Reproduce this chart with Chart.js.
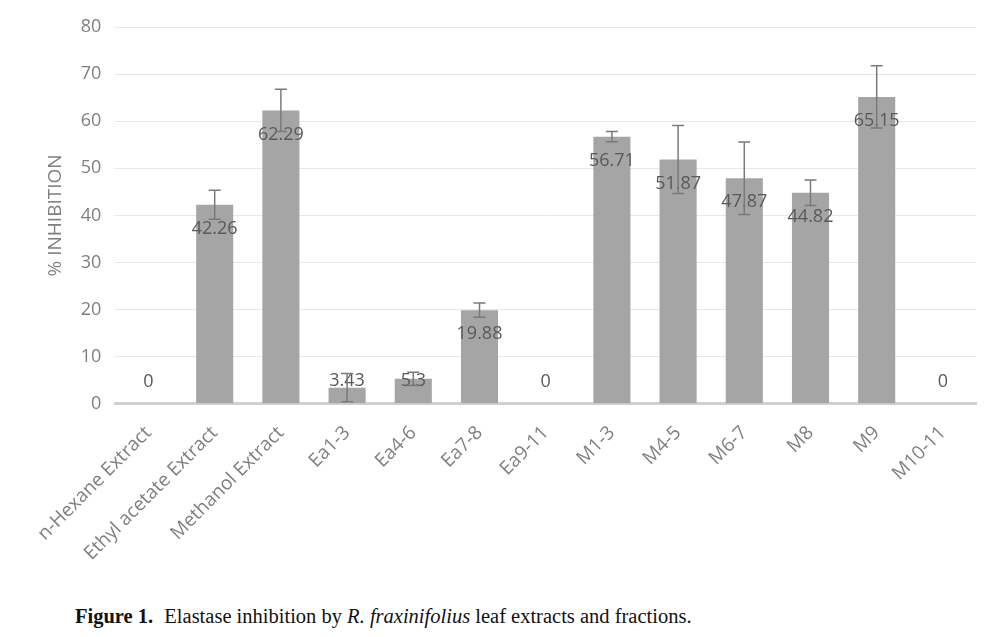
<!DOCTYPE html>
<html>
<head>
<meta charset="utf-8">
<script src="https://cdn.jsdelivr.net/npm/chart.js@4"></script>
<style>
  html, body { margin: 0; padding: 0; background: #fff; overflow: hidden; }
  .wrap { position: relative; width: 1005px; height: 637px; overflow: hidden; }
  .chart-box { position: absolute; left: -12px; top: -3px; width: 1017px; height: 603px; }
  .caption {
    position: absolute; left: 75px; top: 605px;
    font-family: "Liberation Serif", "DejaVu Serif", serif;
    font-size: 20.5px; color: #111; white-space: nowrap;
  }
  .caption b { margin-right: 6px; }
</style>
</head>
<body>
<div class="wrap">
  <div class="chart-box"><canvas id="chart"></canvas></div>
  <div class="caption"><b>Figure 1.</b> Elastase inhibition by <i>R. fraxinifolius</i> leaf extracts and fractions.</div>
</div>
<script>
const categories = [
    "n-Hexane Extract", "Ethyl acetate Extract", "Methanol Extract",
    "Ea1-3", "Ea4-6", "Ea7-8", "Ea9-11",
    "M1-3", "M4-5", "M6-7", "M8", "M9", "M10-11",
];
const inhibition = [0, 42.26, 62.29, 3.43, 5.3, 19.88, 0, 56.71, 51.87, 47.87, 44.82, 65.15, 0];
const errors = [0, 3.1, 4.5, 3.0, 1.4, 1.5, 0, 1.1, 7.2, 7.7, 2.7, 6.6, 0];
const yTicks = [0, 10, 20, 30, 40, 50, 60, 70, 80];

const textGrey = "#7f7f7f";

// value labels inside the top of each bar
const valueLabels = {
    id: "valueLabels",
    afterDatasetsDraw(chart) {
        const ctx = chart.ctx;
        const meta = chart.getDatasetMeta(0);
        ctx.save();
        ctx.font = "18px 'Open Sans'";
        ctx.fillStyle = "#595959";
        ctx.textAlign = "center";
        ctx.textBaseline = "middle";
        meta.data.forEach((bar, i) => {
            const y = Math.min(bar.y + 24, bar.base - 22);
            ctx.fillText(String(inhibition[i]), bar.x, y);
        });
        ctx.restore();
    },
};

// error bars drawn over the labels
const errorBars = {
    id: "errorBars",
    afterDatasetsDraw(chart) {
        const ctx = chart.ctx;
        const yScale = chart.scales.y;
        const meta = chart.getDatasetMeta(0);
        ctx.save();
        ctx.strokeStyle = "#7a7a7a";
        ctx.lineWidth = 1.5;
        meta.data.forEach((bar, i) => {
            const e = errors[i];
            if (!e) return;
            const top = yScale.getPixelForValue(inhibition[i] + e);
            const bot = yScale.getPixelForValue(Math.max(inhibition[i] - e, 0));
            ctx.beginPath();
            ctx.moveTo(bar.x, top);
            ctx.lineTo(bar.x, bot);
            ctx.moveTo(bar.x - 6, top);
            ctx.lineTo(bar.x + 6, top);
            ctx.moveTo(bar.x - 6, bot);
            ctx.lineTo(bar.x + 6, bot);
            ctx.stroke();
        });
        ctx.restore();
    },
};

new Chart(document.getElementById("chart"), {
    type: "bar",
    data: {
        labels: categories,
        datasets: [
            {
                label: "% Inhibition",
                data: inhibition,
                backgroundColor: "#a5a5a5",
                categoryPercentage: 1,
                barPercentage: 0.56,
            },
        ],
    },
    options: {
        responsive: true,
        maintainAspectRatio: false,
        animation: false,
        layout: { padding: { left: 32, right: 29, top: 30, bottom: 25 } },
        plugins: {
            legend: { display: false },
            tooltip: { enabled: false },
        },
        scales: {
            x: {
                grid: { display: false },
                border: { color: "#d0d0d0", width: 3 },
                ticks: {
                    color: textGrey,
                    font: { family: "Open Sans", size: 19 },
                    minRotation: 45,
                    maxRotation: 45,
                    padding: 10,
                },
            },
            y: {
                min: 0,
                max: 80,
                afterBuildTicks: (axis) => {
                    axis.ticks = yTicks.map((v) => ({ value: v }));
                },
                grid: { color: "#e8e8e8", drawTicks: false },
                border: { display: false },
                ticks: {
                    color: textGrey,
                    font: { family: "Open Sans", size: 18 },
                    padding: 14,
                },
                title: {
                    display: true,
                    text: "% INHIBITION",
                    color: textGrey,
                    font: { family: "Open Sans", size: 19 },
                    padding: { top: 24, bottom: 0 },
                },
            },
        },
    },
    plugins: [valueLabels, errorBars],
});
</script>
</body>
</html>
